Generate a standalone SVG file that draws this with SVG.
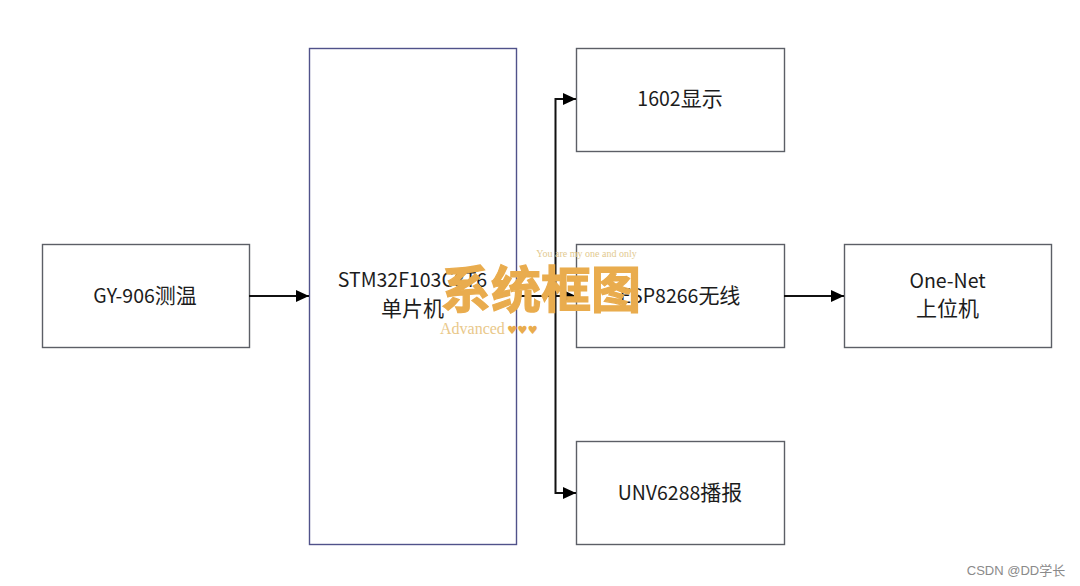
<svg xmlns="http://www.w3.org/2000/svg" width="1080" height="586" viewBox="0 0 1080 586">
<style>
.box{fill:#fff;stroke:#5c5f66;stroke-width:1.4}
.t{font-family:"Noto Sans CJK SC","Noto Sans",sans-serif;font-size:19.5px;fill:#1c1c1c;text-anchor:middle}
.z{font-size:21px}
.c{fill:none;stroke:#111;stroke-width:2}
.w{font-family:"Noto Sans CJK SC",sans-serif;fill:#e9ac4e;stroke:#e9ac4e;stroke-width:1.2}
</style>
<defs><marker id="a" markerUnits="userSpaceOnUse" markerWidth="14" markerHeight="12" refX="13" refY="6" orient="auto"><path d="M0 0L13 6L0 12Z" fill="#000"/></marker></defs>
<rect width="1080" height="586" fill="#fff"/>
<g id="n1"><rect class="box" x="42.500" y="244.500" width="207" height="103"/><text class="t" x="145" y="303">GY-906<tspan class="z">测温</tspan></text></g>
<g id="n2"><rect class="box" x="309.500" y="48.500" width="207" height="496" style="stroke:#50528a"/><text class="t" x="412.500" y="287">STM32F103C8T6</text><text class="t z" x="412.500" y="316">单片机</text></g>
<g id="n3"><rect class="box" x="576.500" y="48.500" width="208" height="103"/><text class="t" x="680" y="106">1602<tspan class="z">显示</tspan></text></g>
<g id="n4"><rect class="box" x="576.500" y="244.500" width="208" height="103"/><text class="t" x="680" y="303">ESP8266<tspan class="z">无线</tspan></text></g>
<g id="n5"><rect class="box" x="576.500" y="441.500" width="208" height="103"/><text class="t" x="680" y="500">UNV6288<tspan class="z">播报</tspan></text></g>
<g id="n6"><rect class="box" x="844.500" y="244.500" width="207" height="103"/><text class="t" x="947.500" y="288">One-Net</text><text class="t z" x="947.500" y="316">上位机</text></g>
<g id="connectors">
<path class="c" d="M249 296H309" marker-end="url(#a)"/>
<path class="c" d="M517 296H576" marker-end="url(#a)"/>
<path class="c" d="M555.500 296V99H576" marker-end="url(#a)"/>
<path class="c" d="M555.500 296V493H576" marker-end="url(#a)"/>
<path class="c" d="M784 296H844" marker-end="url(#a)"/>
</g>
<text class="w" x="541" y="308" font-size="50" font-weight="700" text-anchor="middle">系统框图</text>
<text x="586.500" y="257" font-family="Liberation Serif,serif" font-size="10" fill="#e2c98f" text-anchor="middle">You are my one and only</text>
<text x="440" y="334" font-family="Liberation Serif,serif" font-size="16" fill="#e9c88a">Advanced</text>
<text x="507" y="334" font-family="DejaVu Sans,sans-serif" font-size="11.500" fill="#e9ac4e">♥♥♥</text>
<text x="1016" y="575" font-family="Liberation Sans,Noto Sans CJK SC,sans-serif" font-size="13" fill="#8a8a8a" text-anchor="middle">CSDN @DD学长</text>
</svg>
